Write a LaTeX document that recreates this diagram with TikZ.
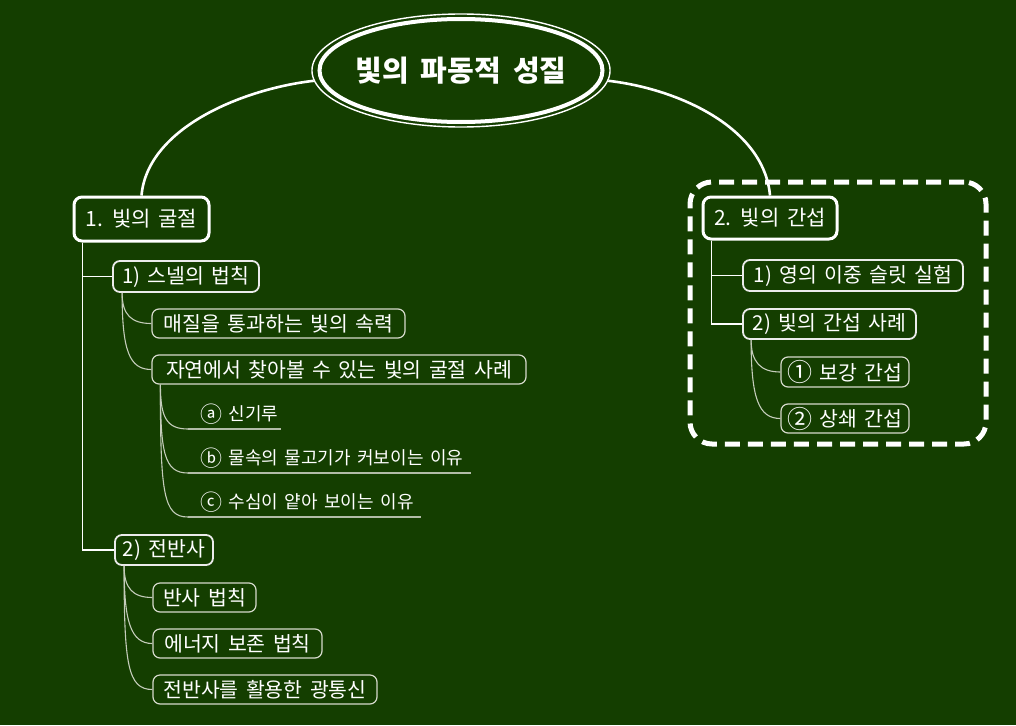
\documentclass[tikz,border=0pt]{standalone}
\usepackage{fontspec}
\usepackage{graphicx}
\newfontfamily\kr[WordSpace=1.6]{Noto Sans CJK KR}
\newcommand\cgl[1]{\raisebox{-1.3pt}{\scalebox{1.22}{#1}}}
\usetikzlibrary{calc,shapes.geometric}
\definecolor{bg}{RGB}{20,62,0}
\definecolor{lg}{RGB}{214,218,204}
\definecolor{ln}{RGB}{196,204,186}
\definecolor{ulc}{RGB}{178,188,168}
\begin{document}
\begin{tikzpicture}[x=1pt,y=-1pt,
  ttl/.style={ellipse, draw=white, line width=1.4pt, minimum width=292pt, minimum height=113pt, inner sep=0pt, text=white, font=\kr\bfseries\fontsize{29}{32}\selectfont},
  lvA/.style={draw=white, line width=3pt, rounded corners=8pt, fill=bg, text=white, inner sep=0pt, font=\kr\fontsize{21}{24}\selectfont},
  lvB/.style={draw=white!92!black, line width=1.8pt, rounded corners=7pt, fill=bg, text=white, inner sep=0pt, font=\kr\fontsize{20.5}{24}\selectfont},
  lvC/.style={draw=lg, line width=1.2pt, rounded corners=7pt, fill=bg, text=white, inner sep=0pt, font=\kr\fontsize{20.5}{24}\selectfont},
  ulitem/.style={anchor=south west, inner xsep=12pt, inner ysep=0pt, minimum height=30pt, text=white, font=\kr\fontsize{18}{21}\selectfont},
  ulline/.style={draw=ulc, line width=1.8pt},
  mainc/.style={draw=white, line width=2.6pt},
  trunk/.style={draw=white, line width=1.5pt},
  twig/.style={draw=ln, line width=1.1pt},
  grpbox/.style={draw=white, line width=5pt, dash pattern=on 15pt off 8pt, rounded corners=22pt, minimum width=296pt, minimum height=262pt, inner sep=0pt}
]
\fill[bg] (0,0) rectangle (1016,725);
\useasboundingbox (0,0) rectangle (1016,725);

% group frame
\node[grpbox] (grp) at (838,313) {};

% title
\node[ttl] (title) at (461,70.5) {빛의\hspace{12pt}파동적\hspace{12pt}성질};
\draw[white, line width=4pt] (title.center) ellipse [x radius=141.5, y radius=51.5];

% left branch
\node[lvA, minimum width=135pt, minimum height=44pt] (b1) at (141.5,219) {1. 빛의 굴절};
\node[lvB, minimum width=146pt, minimum height=31pt] (s1) at (186,276.5) {1) 스넬의 법칙};
\node[lvC, minimum width=253pt, minimum height=29pt] (m1) at (278.5,323.5) {매질을 통과하는 빛의 속력};
\node[lvC, minimum width=374pt, minimum height=29pt] (m2) at (339,369.5) {자연에서 찾아볼 수 있는 빛의 굴절 사례};
\node[ulitem] (ua) at (188,429) {\makebox[69pt][l]{\cgl{ⓐ} 신기루}};
\node[ulitem] (ub) at (188,473) {\makebox[259pt][l]{\cgl{ⓑ} 물속의 물고기가 커보이는 이유}};
\node[ulitem] (uc) at (188,517) {\makebox[209pt][l]{\cgl{ⓒ} 수심이 얕아 보이는 이유}};
\node[lvB, minimum width=98pt, minimum height=30pt] (s2) at (164,550) {2) 전반사};
\node[lvC, minimum width=103pt, minimum height=29pt] (t1) at (204.5,597.5) {반사 법칙};
\node[lvC, minimum width=169pt, minimum height=29pt] (t2) at (237.5,643.5) {에너지 보존 법칙};
\node[lvC, minimum width=224pt, minimum height=29pt] (t3) at (265,689.5) {전반사를 활용한 광통신};

% right branch
\node[lvA, minimum width=134pt, minimum height=42pt] (b2) at (770,218) {2. 빛의 간섭};
\node[lvB, minimum width=220pt, minimum height=31pt] (r1) at (853,275.5) {1) 영의 이중 슬릿 실험};
\node[lvB, minimum width=173pt, minimum height=30pt] (r2) at (829.5,324) {2) 빛의 간섭 사례};
\node[lvC, minimum width=128pt, minimum height=30pt] (q1) at (845,372) {\cgl{①} 보강 간섭};
\node[lvC, minimum width=128pt, minimum height=29pt] (q2) at (845,418.5) {\cgl{②} 상쇄 간섭};

% main connectors
\draw[mainc] (title.184) .. controls ($(title.184)+(-70,8)$) and ($(b1.north)+(6,-68)$) .. (b1.north);
\draw[mainc] (title.356) .. controls ($(title.356)+(70,8)$) and ($(b2.north)+(-6,-68)$) .. (b2.north);

% trunks
\draw[trunk] ($(b1.south west)+(10,0)$) |- (s1.west);
\draw[trunk] ($(b1.south west)+(10,0)$) |- (s2.west);
\draw[trunk] ($(b2.south west)+(10,0)$) |- (r1.west);
\draw[trunk] ($(b2.south west)+(10,0)$) |- (r2.west);

% twigs
\draw[twig] ($(s1.south west)+(10,0)$) .. controls ($(s1.south west)+(10,22)$) and ($(m1.west)+(-20,0)$) .. (m1.west);
\draw[twig] ($(s1.south west)+(10,0)$) .. controls ($(s1.south west)+(10,58)$) and ($(m2.west)+(-22,0)$) .. (m2.west);
\draw[twig] ($(m2.south west)+(9,0)$) .. controls ($(m2.south west)+(9,32)$) and ($(ua.south west)+(-22,0)$) .. (ua.south west);
\draw[twig] ($(m2.south west)+(9,0)$) .. controls ($(m2.south west)+(9,68)$) and ($(ub.south west)+(-24,0)$) .. (ub.south west);
\draw[twig] ($(m2.south west)+(9,0)$) .. controls ($(m2.south west)+(9,108)$) and ($(uc.south west)+(-25,0)$) .. (uc.south west);
\draw[twig] ($(s2.south west)+(10,0)$) .. controls ($(s2.south west)+(10,22)$) and ($(t1.west)+(-20,0)$) .. (t1.west);
\draw[twig] ($(s2.south west)+(10,0)$) .. controls ($(s2.south west)+(10,55)$) and ($(t2.west)+(-22,0)$) .. (t2.west);
\draw[twig] ($(s2.south west)+(10,0)$) .. controls ($(s2.south west)+(10,98)$) and ($(t3.west)+(-25,0)$) .. (t3.west);
\draw[twig] ($(r2.south west)+(9,0)$) .. controls ($(r2.south west)+(9,22)$) and ($(q1.west)+(-20,0)$) .. (q1.west);
\draw[twig] ($(r2.south west)+(9,0)$) .. controls ($(r2.south west)+(9,58)$) and ($(q2.west)+(-22,0)$) .. (q2.west);

% underlines
\draw[ulline] (ua.south west) -- (ua.south east);
\draw[ulline] (ub.south west) -- (ub.south east);
\draw[ulline] (uc.south west) -- (uc.south east);
\end{tikzpicture}
\end{document}
